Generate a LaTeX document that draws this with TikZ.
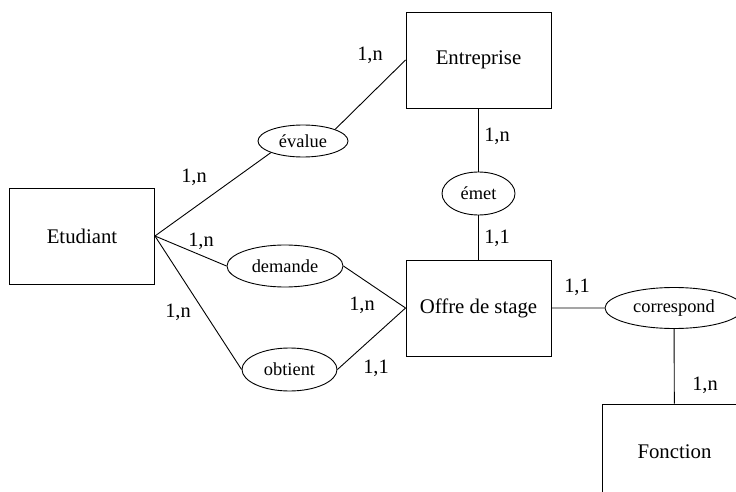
\documentclass[tikz,border=0pt]{standalone}
\usepackage{fontspec}
\setmainfont{Liberation Serif}
\usetikzlibrary{shapes.geometric}

\begin{document}
\begin{tikzpicture}[x=1pt,y=-1pt,line width=0.9pt,
  entite/.style={draw,minimum width=145pt,minimum height=96pt,inner sep=0pt,font=\fontsize{20.8}{24}\selectfont},
  relation/.style={draw,ellipse,inner sep=0pt,font=\fontsize{18.4}{22}\selectfont},
  card/.style={inner sep=0pt,font=\fontsize{20.4}{24}\selectfont}]
 \useasboundingbox (0,0) rectangle (736,492);
 \clip (0,0) rectangle (736,492);

 % entites
 \node[entite] (etudiant) at (82,236) {Etudiant};
 \node[entite] (entreprise) at (478.5,60) {Entreprise};
 \node[entite] (offre) at (478.5,308) {Offre de stage};
 \node[entite] (fonction) at (674.5,452) {Fonction};

 % associations
 \node[relation,minimum width=90pt,minimum height=32pt] (evalue) at (303,141) {évalue};
 \node[relation,minimum width=73pt,minimum height=43pt] (emet) at (478.5,193.5) {émet};
 \node[relation,minimum width=116pt,minimum height=42pt] (demande) at (285,266) {demande};
 \node[relation,minimum width=95pt,minimum height=43pt] (obtient) at (289.5,369.5) {obtient};
 \node[relation,minimum width=138pt,minimum height=41pt] (correspond) at (674,308) {correspond};

 \draw (etudiant.east) -- (evalue.south west);
 \draw (evalue.north east) -- (entreprise.west);
 \draw (etudiant.east) -- (demande.west);
 \draw (demande.east) -- (offre.west);
 \draw (etudiant.east) -- (obtient.west);
 \draw (obtient.east) -- (offre.west);
 \draw (entreprise) -- (emet) -- (offre);
 \draw (offre) -- (correspond) -- (fonction);

 % cardinalites
 \node[card] (c1) at (370,55) {1,n};
 \node[card] (c2) at (194,177) {1,n};
 \node[card] (c3) at (497,136) {1,n};
 \node[card] (c4) at (497,238) {1,1};
 \node[card] (c5) at (201,241) {1,n};
 \node[card] (c6) at (178,312) {1,n};
 \node[card] (c7) at (362,305) {1,n};
 \node[card] (c8) at (376,368) {1,1};
 \node[card] (c9) at (577,287) {1,1};
 \node[card] (c10) at (705,385) {1,n};
\end{tikzpicture}
\end{document}
